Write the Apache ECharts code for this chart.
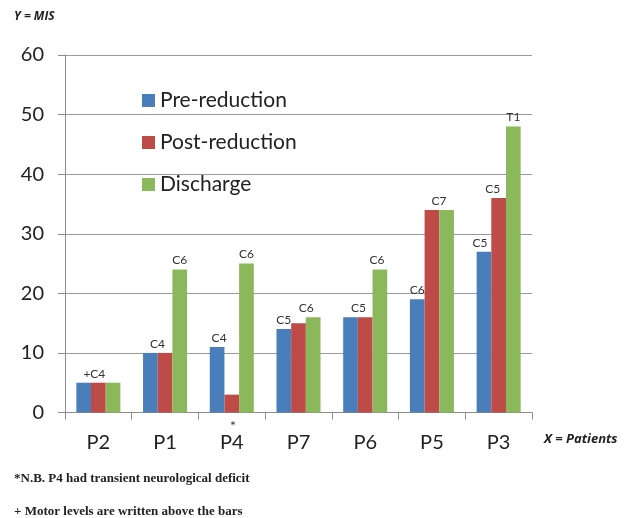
<!DOCTYPE html>
<html><head><meta charset="utf-8">
<script src="https://cdn.jsdelivr.net/npm/echarts@6/dist/echarts.min.js"></script>
<style>html,body{margin:0;padding:0;background:#fff}#c{width:627px;height:518px}</style>
</head><body><div id="c"></div>
<script>
const categories = ['P2','P1','P4','P7','P6','P5','P3'];
const seriesNames = ['Pre-reduction','Post-reduction','Discharge'];
const preValues = [5,10,11,14,16,19,27];
const postValues = [5,10,3,15,16,34,36];
const dischargeValues = [5,24,25,16,24,34,48];
const preLabels = ['','C4','C4','C5','C5','C6','C5'];
const postLabels = ['+C4','','','','','C7','C5'];
const dischargeLabels = ['','C6','C6','C6','C6','','T1'];
const yTicks = [0,10,20,30,40,50,60];

// label horizontal nudges (style only)
const preNudge = [0,7,2,0,8,0,-4];
const postNudge = [-4,0,0,0,0,7,-6];
const dischargeNudge = [0,0,0,-7,-3,0,0];

const colors = ['#4A7EBB','#BE4B48','#8CB85C'];
function items(vals, labels, nudge){
  return vals.map((v,i)=>({value:v,label:{show:labels[i]!=='',formatter:labels[i],offset:[nudge[i],0]}}));
}
const chart = echarts.init(document.getElementById('c'),null,{renderer:'canvas'});
const labelStyle = {position:'top',distance:3,fontSize:12,color:'#333',fontFamily:'Lato'};
chart.setOption({
  animation:false,
  color:colors,
  grid:{left:65,right:95,top:55,bottom:105.5,containLabel:false},
  legend:{orient:'vertical',left:137,top:85,itemWidth:13,itemHeight:13,itemGap:21,icon:'rect',
    textStyle:{fontSize:21,color:'#222',fontFamily:'Lato'},data:seriesNames},
  xAxis:{type:'category',data:categories,
    axisLine:{lineStyle:{color:'#8c8c8c'}},
    axisTick:{show:true,length:7,lineStyle:{color:'#8c8c8c'}},
    axisLabel:{fontSize:20,color:'#222',margin:20,fontFamily:'Lato'}},
  yAxis:{type:'value',min:yTicks[0],max:yTicks[yTicks.length-1],interval:10,
    axisLine:{show:true,lineStyle:{color:'#8c8c8c'}},
    axisTick:{show:true,length:7,lineStyle:{color:'#8c8c8c'}},
    splitLine:{lineStyle:{color:'#9a9a9a'}},
    axisLabel:{fontSize:20,color:'#222',margin:21,fontFamily:'Lato'}},
  series:[
    {name:seriesNames[0],type:'bar',barGap:'0%',barCategoryGap:'34%',data:items(preValues,preLabels,preNudge),label:labelStyle},
    {name:seriesNames[1],type:'bar',barGap:'0%',barCategoryGap:'34%',data:items(postValues,postLabels,postNudge),label:labelStyle},
    {name:seriesNames[2],type:'bar',barGap:'0%',barCategoryGap:'34%',data:items(dischargeValues,dischargeLabels,dischargeNudge),label:labelStyle}
  ],
  graphic:[
    {type:'text',left:14,top:11,style:{text:'Y = MIS',font:'italic bold 12px "Open Sans"',fill:'#222'}},
    {type:'text',left:544,top:433,style:{text:'X = Patients',font:'italic bold 13px "Open Sans"',fill:'#222'}},
    {type:'text',left:230,top:419,style:{text:'*',font:'14px Lato',fill:'#333'}},
    {type:'text',left:14,top:472,style:{text:'*N.B. P4 had transient neurological deficit',font:'bold 13px "Liberation Serif"',fill:'#222'}},
    {type:'text',left:14,top:505,style:{text:'+ Motor levels are written above the bars',font:'bold 13px "Liberation Serif"',fill:'#222'}}
  ]
});
</script></body></html>
